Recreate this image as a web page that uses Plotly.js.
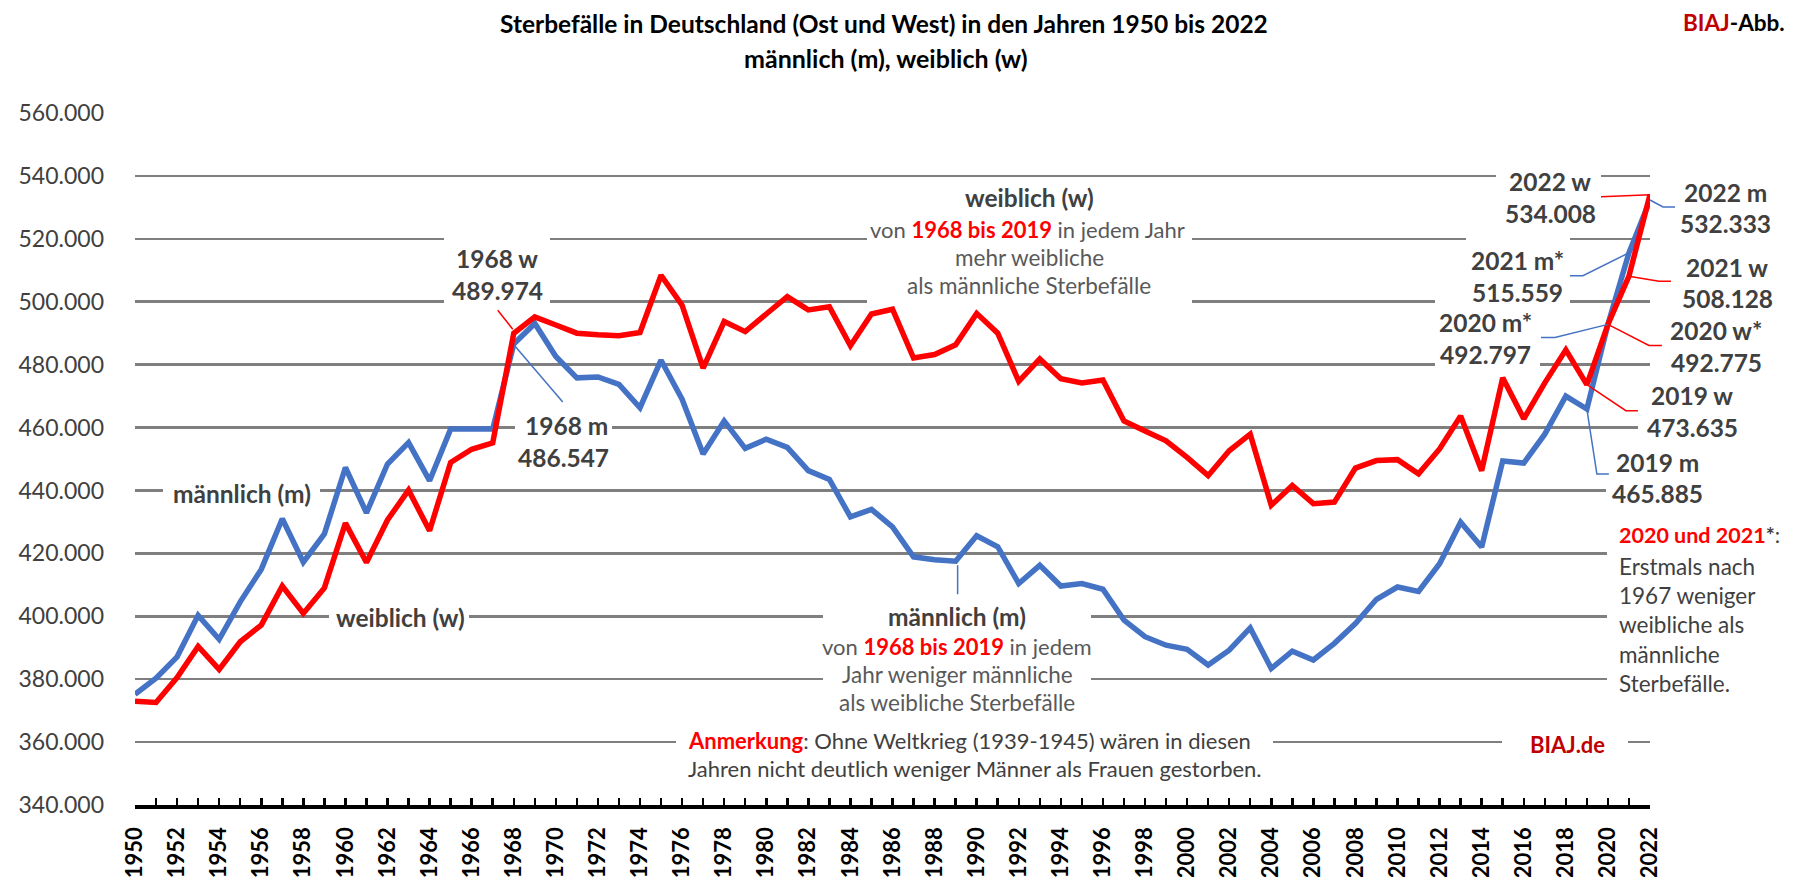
<!DOCTYPE html>
<html><head><meta charset="utf-8">
<script src="https://cdn.plot.ly/plotly-3.0.1.min.js"></script>
<style>html,body{margin:0;padding:0;background:#fff}#chart{width:1793px;height:877px}</style>
</head><body><div id="chart"></div>
<script>
const years = [1950,1951,1952,1953,1954,1955,1956,1957,1958,1959,1960,1961,1962,1963,1964,1965,1966,1967,1968,1969,
1970,1971,1972,1973,1974,1975,1976,1977,1978,1979,1980,1981,1982,1983,1984,1985,1986,1987,1988,1989,
1990,1991,1992,1993,1994,1995,1996,1997,1998,1999,2000,2001,2002,2003,2004,2005,2006,2007,2008,2009,
2010,2011,2012,2013,2014,2015,2016,2017,2018,2019,2020,2021,2022];
const maleDeaths = [375200,380300,387100,400300,392700,404600,414900,431000,417200,426200,
447300,432900,448400,455200,443100,459500,459500,459500,486547,493100,
482600,475800,476100,473700,466300,481400,469000,451600,462100,453400,
456300,453700,446300,443500,431600,434000,428400,418900,418000,417500,
425600,422100,410400,416200,409600,410400,408600,398800,393500,390800,
389500,384500,389200,396300,383400,388900,386100,391400,397700,405400,
409300,407900,416700,429900,422000,449400,448700,457900,470000,465885,
492797,515559,532333];
const femaleDeaths = [373000,372600,380500,390400,383100,391900,397200,409600,400900,409000,
429600,417100,430600,440100,427200,448900,453100,455100,489974,495200,
492600,490000,489500,489200,490200,508400,498900,478900,493700,490500,
496100,501600,497400,498400,486000,496100,497600,482100,483200,486300,
496300,490000,474700,481800,475500,474200,475100,462100,458900,455800,
450500,444700,452600,457900,435300,441600,435800,436300,447100,449500,
449800,445300,453200,463700,446300,475800,462800,474200,484700,473635,
492775,508128,534008];
const yTickVals = [340000,360000,380000,400000,420000,440000,460000,480000,500000,520000,540000,560000];
const yTickText = ['340.000','360.000','380.000','400.000','420.000','440.000','460.000','480.000','500.000','520.000','540.000','560.000'];
const xRange = [1950, 2022];
const yRange = [340000, 560000];

const FONT = 'Lato, "Open Sans", sans-serif';
const W=1793, H=877, ML=135, MR=143, MT=113, MB=72;
const PW=W-ML-MR, PH=H-MT-MB;
const px = x => (x-ML)/PW;
const py = y => (H-MB-y)/PH;
const idx = y => years.indexOf(y);
const de = v => String(Math.round(v)).replace(/\B(?=(\d{3})+(?!\d))/g,'.');
const BLUE='#4472C4', RED='#FF0000', DARKRED='#C00000', TXT='#404040', TXT2='#595959';

function T(text,x,y,o){o=o||{};return {xref:'paper',yref:'paper',x:px(x),y:py(y),text:text,showarrow:false,
  xanchor:o.anchor||'center',yanchor:'middle',font:{family:FONT,size:o.size||22.5,color:o.color||TXT,weight:o.bold?700:400}};}
function M(x0,y0,x1,y1){return {type:'rect',xref:'paper',yref:'paper',x0:px(x0),x1:px(x1),y0:py(y1),y1:py(y0),
  fillcolor:'#ffffff',line:{width:0},layer:'above'};}
function Ld(year,series,path,color){return {type:'path',xref:'paper',yref:'y',xsizemode:'pixel',ysizemode:'pixel',
  xanchor:(year-xRange[0])/(xRange[1]-xRange[0]),yanchor:series[idx(year)],path:path,line:{color:color,width:1.5},layer:'above'};}
const r = s => '<span style="color:'+RED+'"><b>'+s+'</b></span>';

const VL=24.5, BL=24.5, RG=22.5;
const annotations = [
  T('Sterbefälle in Deutschland (Ost und West) in den Jahren 1950 bis 2022',884,23,{bold:true,size:24.5,color:'#000'}),
  T('männlich (m), weiblich (w)',886,58,{bold:true,size:25,color:'#000'}),
  T('<span style="color:'+DARKRED+'">BIAJ</span>-Abb.',1787,22,{bold:true,size:22.5,color:'#000',anchor:'right'}),
  T('männlich (m)',242,493,{bold:true,size:BL}),
  T('weiblich (w)',400,617,{bold:true,size:BL}),
  T('1968 w',497,258,{bold:true,size:VL}), T(de(femaleDeaths[idx(1968)]),497,290,{bold:true,size:VL}),
  T('1968 m',566,425,{bold:true,size:VL}), T(de(maleDeaths[idx(1968)]),563,457,{bold:true,size:VL}),
  T('weiblich (w)',1029,198,{bold:true,size:BL}),
  T('von '+r('1968 bis 2019')+' in jedem Jahr',1027,229,{size:22,color:TXT2}),
  T('mehr weibliche',1029,257,{size:RG,color:TXT2}),
  T('als männliche Sterbefälle',1029,285,{size:RG,color:TXT2}),
  T('männlich (m)',957,616,{bold:true,size:BL}),
  T('von '+r('1968 bis 2019')+' in jedem',957,646,{size:22,color:TXT2}),
  T('Jahr weniger männliche',957,674,{size:RG,color:TXT2}),
  T('als weibliche Sterbefälle',957,702,{size:RG,color:TXT2}),
  T(r('Anmerkung')+': Ohne Weltkrieg (1939-1945) wären in diesen',686,740,{anchor:'left',size:22}),
  T('Jahren nicht deutlich weniger Männer als Frauen gestorben.',686,768,{anchor:'left',size:22}),
  T('BIAJ.de',1567,744,{bold:true,size:22,color:DARKRED}),
  T('2022 w',1550,182,{bold:true,size:VL}), T(de(femaleDeaths[idx(2022)]),1550,213,{bold:true,size:VL}),
  T('2022 m',1725,192,{bold:true,size:VL}), T(de(maleDeaths[idx(2022)]),1725,223,{bold:true,size:VL}),
  T('2021 m*',1517,260,{bold:true,size:VL}), T(de(maleDeaths[idx(2021)]),1517,292,{bold:true,size:VL}),
  T('2021 w',1727,267,{bold:true,size:VL}), T(de(femaleDeaths[idx(2021)]),1727,298,{bold:true,size:VL}),
  T('2020 m*',1485,322,{bold:true,size:VL}), T(de(maleDeaths[idx(2020)]),1485,354,{bold:true,size:VL}),
  T('2020 w*',1716,330,{bold:true,size:VL}), T(de(femaleDeaths[idx(2020)]),1716,362,{bold:true,size:VL}),
  T('2019 w',1692,395,{bold:true,size:VL}), T(de(femaleDeaths[idx(2019)]),1692,427,{bold:true,size:VL}),
  T('2019 m',1657,462,{bold:true,size:VL}), T(de(maleDeaths[idx(2019)]),1657,493,{bold:true,size:VL}),
  T(r('2020 und 2021')+'<b>*</b>:',1617,535,{anchor:'left',size:21.5}),
  T('Erstmals nach',1617,566,{anchor:'left',size:RG}),
  T('1967 weniger',1617,595,{anchor:'left',size:RG}),
  T('weibliche als',1617,624,{anchor:'left',size:RG}),
  T('männliche',1617,654,{anchor:'left',size:RG}),
  T('Sterbefälle.',1617,683,{anchor:'left',size:RG})
];

const shapes = [
  M(163,478,320,506), M(329,604,469,630), M(444,230,550,308), M(515,410,612,470),
  M(867,186,1192,306), M(823,600,1091,700), M(676,730,1273,757), M(1502,732,1628,757),
  M(1496,165,1601,188), M(1466,232,1570,308), M(1435,295,1540,371),
  M(1638,420,1700,436), M(1606,482,1700,498), M(1607,545,1700,690),
  Ld(1968,femaleDeaths,'M-1,4 L-16,23',RED),
  Ld(1968,maleDeaths,'M2,-3 L49,-58',BLUE),
  Ld(1989,maleDeaths,'M2,-4 L2,-33',BLUE),
  Ld(2022,femaleDeaths,'M0,0 L-49,-2',RED),
  Ld(2022,maleDeaths,'M0,0 L13,-7 L25,-7',BLUE),
  Ld(2021,maleDeaths,'M0,0 L-46,-23 L-59,-23',BLUE),
  Ld(2021,femaleDeaths,'M0,0 L30,-5 L42,-5',RED),
  Ld(2020,maleDeaths,'M0,0 L-53,-13 L-67,-13',BLUE),
  Ld(2020,femaleDeaths,'M0,0 L41,-21 L54,-21',RED),
  Ld(2019,femaleDeaths,'M0,0 L39,-26 L51,-26',RED),
  Ld(2019,maleDeaths,'M0,0 L10,-65 L22,-65',BLUE)
];

const traces = [
  {x:years,y:maleDeaths,type:'scatter',mode:'lines',name:'männlich (m)',line:{color:BLUE,width:5.5}},
  {x:years,y:femaleDeaths,type:'scatter',mode:'lines',name:'weiblich (w)',line:{color:RED,width:5.5}}
];

const layout = {
  width:W,height:H,margin:{l:ML,r:MR,t:MT,b:MB,pad:0},
  paper_bgcolor:'#fff',plot_bgcolor:'#fff',showlegend:false,
  font:{family:FONT,color:TXT},
  xaxis:{range:xRange,tick0:1950,dtick:2,tickangle:-90,ticks:'inside',ticklen:7,tickwidth:2.5,tickcolor:'#000',
    showline:true,linecolor:'#000',linewidth:3.5,showgrid:false,zeroline:false,ticklabelstandoff:10,
    tickfont:{family:FONT,size:22,color:'#000',weight:700},
    minor:{dtick:1,ticks:'inside',ticklen:7,tickwidth:2.5,tickcolor:'#000',showgrid:false}},
  yaxis:{range:yRange,tickvals:yTickVals,ticktext:yTickText,showgrid:true,gridcolor:'#7f7f7f',gridwidth:2.5,
    zeroline:false,showline:false,ticks:'',ticklabelstandoff:30,tickfont:{family:FONT,size:23,color:TXT}},
  annotations:annotations,shapes:shapes
};
Plotly.newPlot('chart',traces,layout,{staticPlot:true,displayModeBar:false});
</script></body></html>
